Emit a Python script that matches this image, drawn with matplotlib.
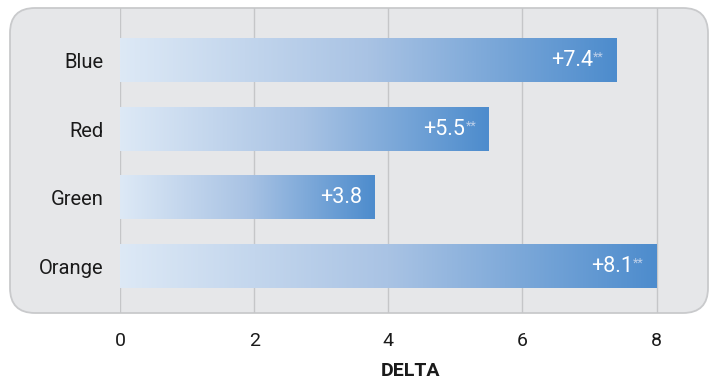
import numpy as np
import matplotlib.pyplot as plt
from matplotlib.colors import LinearSegmentedColormap
from matplotlib.patches import FancyBboxPatch

categories = ["Blue", "Red", "Green", "Orange"]
values = [7.4, 5.5, 3.8, 8.1]
labels = ["+7.4", "+5.5", "+3.8", "+8.1"]
significant = [True, True, False, True]
ticks = [0, 2, 4, 6, 8]

plt.rcParams['font.family'] = ['Roboto', 'DejaVu Sans']

W, H = 716, 383
fig = plt.figure(figsize=(W / 100, H / 100), dpi=100)

def fx(px):
    return px / W

def fy(py):
    return 1 - py / H

# rounded grey panel behind the plot
box = FancyBboxPatch((fx(10), fy(313)), fx(708) - fx(10), fy(8) - fy(313),
                     boxstyle="round,pad=0,rounding_size=0.035",
                     transform=fig.transFigure, facecolor="#e6e7e9",
                     edgecolor="#c9cacc", linewidth=1.3, zorder=-5,
                     mutation_aspect=W / H)
fig.patches.append(box)

# axes: x 0 -> 120px, 8 -> 656.5px
ppu = (656.5 - 120) / 8
ax = fig.add_axes([fx(120), fy(313), fx(700) - fx(120), fy(8) - fy(313)])
ax.set_facecolor("none")
step = 68.67
for s in ax.spines.values():
    s.set_visible(False)

for t in ticks:
    ax.axvline(t, color="#c5c6c8", lw=1.0, zorder=1)

cmap = LinearSegmentedColormap.from_list("bar", ["#dde9f6", "#a9c3e4", "#4d8ccd"])
grad = np.linspace(0, 1, 256).reshape(1, -1)
h = 0.63
xmax = max(ticks)
for i, (v, lab, sig) in enumerate(zip(values, labels, significant)):
    end = min(v, xmax)
    ax.imshow(grad, cmap=cmap, aspect="auto", extent=(0, end, i + h / 2, i - h / 2),
              zorder=2, interpolation="bilinear")
    off = -9
    if sig:
        ax.annotate("**", (end, i), xytext=(off, 7), textcoords="offset points",
                    ha="right", va="top", fontsize=9, color="#bccfe9", zorder=3)
        off -= 8
    ax.annotate(lab, (end, i), xytext=(off, 0), textcoords="offset points",
                ha="right", va="center", fontsize=15.5, color="white", zorder=3)
ax.set_xlim(0, 580 / ppu)
ax.set_ylim(3 + 46.5 / step, -52.5 / step)

ax.set_xticks(ticks)
ax.set_xticklabels([str(t) for t in ticks], fontsize=14, color="#1a1a1a")
ax.tick_params(axis="x", length=0, pad=14)
ax.set_yticks(range(len(categories)))
ax.set_yticklabels(categories, fontsize=14.5, color="#1a1a1a")
ax.tick_params(axis="y", length=0, pad=12)
ax.set_xlabel("DELTA", fontsize=14, fontweight="bold", color="#1a1a1a", labelpad=8)

fig.savefig("out.png", dpi=100)
